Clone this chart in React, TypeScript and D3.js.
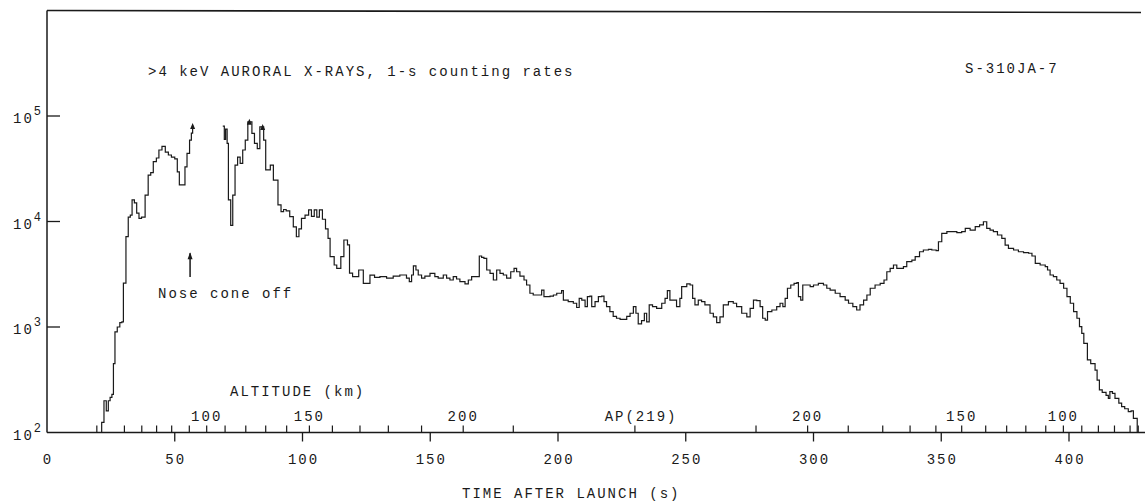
import { useEffect, useRef } from "react"
import * as d3 from "d3"

// 1-s counting rates; NaN marks the telemetry gap
const timeSec = [
  20.5, 21.4, 22.3, 23.2, 24.0, 24.7, 25.4, 26.0, 26.6, 27.5, 28.5, 29.3, 29.9, 30.9, 31.8, 32.6,
  33.3, 34.2, 35.1, 36.0, 37.0, 38.4, 39.6, 40.6, 41.6, 42.8, 43.8, 45.0, 46.3, 47.5, 48.7, 50.0,
  51.0, 51.8, 54.0, 54.8, 55.8, 56.5, 57.0, 57.4,
  68.8, 69.4, 69.9, 70.5, 71.0, 71.9, 72.7, 73.6, 74.6, 75.6, 76.6, 77.6, 78.6, 80.2, 81.2, 82.3,
  83.3, 84.8, 85.6, 87.4, 88.6, 90.4, 91.6, 92.6, 93.6, 95.0, 96.4, 97.6, 98.6, 99.6, 101.0, 102.4,
  103.5, 104.6, 105.6, 106.6, 107.8, 109.0, 110.0, 110.8, 112.4, 113.4, 115.0, 116.2, 117.6, 118.4,
  119.6, 122.0, 123.8, 126.4, 128.2, 130.3, 132.9, 135.5, 138.1, 140.7, 141.8, 142.7, 143.4, 144.4,
  145.3, 146.6, 147.9, 149.9, 151.8, 153.1, 155.1, 156.4, 157.7, 159.0, 160.3, 161.6, 163.6, 164.9,
  166.2, 168.1, 169.2, 170.1, 171.0, 172.1, 173.4, 174.7, 176.0, 177.3, 178.6, 179.9, 181.5, 182.8,
  183.8, 185.1, 186.7, 187.7, 189.0, 190.3, 192.3, 193.6, 194.5, 196.9, 198.2, 199.5, 201.4, 202.1,
  204.0, 206.0, 207.3, 208.3, 209.3, 210.6, 211.5, 212.5, 213.2, 214.5, 215.8, 217.1, 218.0, 219.0,
  220.3, 221.6, 222.9, 224.3, 226.9, 228.2, 229.5, 230.5, 231.4, 232.7, 233.8, 234.7, 235.7, 237.0,
  238.6, 240.6, 241.9, 242.8, 243.8, 246.4, 247.7, 248.4, 250.4, 251.7, 252.7, 253.6, 254.9, 256.2,
  257.5, 259.5, 260.8, 262.1, 263.4, 264.7, 266.7, 268.6, 269.9, 271.9, 273.9, 275.2, 276.5, 277.8,
  279.1, 280.1, 281.1, 282.0, 283.7, 285.6, 286.9, 288.0, 288.9, 289.8, 291.1, 292.4, 293.5, 294.1,
  295.0, 295.8, 298.7, 300.0, 301.9, 303.9, 305.2, 306.5, 308.5, 310.4, 312.4, 313.7, 315.4, 316.9,
  318.2, 319.6, 320.9, 322.2, 324.1, 326.1, 327.6, 328.7, 330.0, 331.3, 332.6, 335.2, 336.5, 338.5,
  339.8, 341.5, 343.0, 345.0, 346.3, 348.0, 348.9, 350.2, 352.2, 356.1, 358.0, 359.4, 361.3, 363.3,
  365.0, 366.5, 367.8, 369.1, 370.4, 372.0, 373.7, 375.0, 376.3, 378.3, 380.2, 382.2, 384.2, 385.5,
  386.8, 388.7, 390.7, 391.6, 392.6, 393.9, 395.2, 396.5, 397.9, 399.2, 400.5, 401.8, 403.1, 404.1,
  405.0, 405.8, 407.2, 408.5, 410.2, 411.0, 411.9, 413.0, 414.5, 415.4, 416.0, 417.0, 418.0, 419.5,
  420.6, 421.8, 423.2, 424.3, 425.2, 426.7,
]
const countRate = [
  100, 125, 200, 160, 200, 215, 230, 450, 900, 1000, 1100, 1120, 2600, 7200, 11000, 11500,
  16000, 15000, 12000, 10700, 11000, 17800, 27500, 29000, 36900, 40000, 47600, 51600, 45500, 42700, 40800, 39300,
  29500, 22200, 33000, 44300, 59000, 68800, 82000, NaN,
  80000, 60000, 75000, 55000, 16000, 9200, 17800, 34300, 40800, 35600, 47600, 59000, 88000, 68500, 55000, 49000,
  79000, 59000, 30800, 34300, 24700, 14400, 12400, 13000, 12600, 11100, 8900, 7170, 8500, 10700, 11500, 12900,
  11200, 12900, 11000, 12900, 10500, 8500, 6920, 4640, 3870, 3600, 4640, 6680, 6000, 3240,
  3000, 3470, 2590, 3100, 2950, 3000, 2900, 3040, 3110, 2900, 2690, 3110, 3790, 3470,
  3110, 2900, 3040, 3230, 3000, 2900, 3110, 2900, 2790, 3000, 2850, 2690, 2560, 2790,
  3000, 3000, 4710, 4580, 4480, 3470, 3230, 2790, 3470, 3230, 3110, 2900, 3340, 3600,
  3340, 3040, 2790, 2500, 2090, 2010, 2010, 2240, 1940, 1960, 2010, 2090, 2210, 1800,
  1740, 1680, 1530, 1870, 1800, 1560, 1940, 1960, 1560, 1740, 1940, 1960, 1740, 1560,
  1400, 1260, 1210, 1180, 1260, 1350, 1560, 1350, 1070, 1150, 1350, 1120, 1620, 1560,
  1500, 1680, 1870, 2210, 1800, 1560, 1870, 2410, 2560, 2500, 1870, 1620, 1800, 1740,
  1620, 1350, 1250, 1100, 1250, 1620, 1740, 1680, 1560, 1350, 1250, 1500, 1800, 1780,
  1560, 1210, 1160, 1400, 1450, 1560, 1680, 1560, 1870, 2330, 2500, 2590, 2630, 1940,
  1800, 2500, 2410, 2500, 2590, 2500, 2330, 2240, 2090, 1940, 1800, 1680, 1560, 1450,
  1620, 1800, 2010, 2330, 2500, 2590, 2790, 3340, 3600, 3870, 3600, 3730, 4160, 4310,
  4640, 5170, 5370, 5450, 5370, 5290, 6430, 7720, 8000, 7830, 8000, 8620, 8300, 8930,
  9270, 9950, 8620, 8300, 8000, 7450, 6930, 5980, 5570, 5370, 5170, 5060, 5000, 4710,
  4010, 3870, 3730, 3470, 3110, 3000, 2790, 2590, 2330, 1940, 1680, 1400, 1210, 1010,
  871, 700, 487, 450, 391, 314, 253, 240, 225, 211, 244, 235, 211, 190,
  176, 168, 158, 160, 136, 100,
]

// saturated points flagged with small arrows
const saturatedTime = [57.0, 79.2, 84.4]
const saturatedRate = [84000, 92000, 82000]

const timeTicks = [0, 50, 100, 150, 200, 250, 300, 350, 400]
const decadeExp = [2, 3, 4, 5]

// altitude scale marks (time after launch at each 10 km)
const altTickTime = [
  19.5, 30.3, 37.1, 42.9, 48.8, 55.7, 62.5, 69.7, 77.8, 85.6, 93.8, 102.7, 111.7, 122.5, 133.6,
  146.6, 162.9, 182.5, 230.1, 277.5, 297.7, 313.6, 327.1, 337.8, 347.9, 358.0, 367.4, 375.6,
  383.1, 390.9, 397.8, 405.0, 411.5, 417.8, 423.9, 427.1,
]
const altLabelTime = [62.5, 102.7, 162.9, 232.5, 297.7, 358.0, 397.8]
const altLabels = ["100", "150", "200", "AP(219)", "200", "150", "100"]

const FONT = "'Liberation Mono', 'DejaVu Sans Mono', monospace"
const INK = "#1a1a1a"

export default function App() {
  const ref = useRef<SVGSVGElement | null>(null)

  useEffect(() => {
    const svg = d3.select(ref.current)
    svg.selectAll("*").remove()

    const width = 1145
    const x = d3.scaleLinear().domain([0, 430]).range([47, 47 + 430 * 2.555])
    const y = d3.scaleLog().domain([100, 1e6]).range([432.5, 10.5])
    const y0 = y(100)

    const txt = (g: any) =>
      g.attr("font-family", FONT).attr("font-size", 14).attr("letter-spacing", 2).attr("fill", INK)

    // frame: left axis and top line
    svg.append("line").attr("x1", x(0)).attr("x2", x(0)).attr("y1", y(1e6)).attr("y2", y0)
      .attr("stroke", INK).attr("stroke-width", 1.5)
    svg.append("line").attr("x1", x(0)).attr("x2", width - 4).attr("y1", y(1e6)).attr("y2", y(1e6) + 2)
      .attr("stroke", INK).attr("stroke-width", 1.6)
    // bottom axis
    svg.append("line").attr("x1", x(0)).attr("x2", width).attr("y1", y0).attr("y2", y0)
      .attr("stroke", INK).attr("stroke-width", 1.4)

    // y decade ticks and labels
    const yt = svg.append("g")
    yt.selectAll("line").data(decadeExp.filter(d => d > 2)).enter().append("line")
      .attr("x1", x(0)).attr("x2", x(0) + 13)
      .attr("y1", d => y(Math.pow(10, d))).attr("y2", d => y(Math.pow(10, d)))
      .attr("stroke", INK).attr("stroke-width", 1.3)
    const lab = yt.selectAll("text").data(decadeExp).enter().append("text")
      .attr("x", 13).attr("y", d => y(Math.pow(10, d)) + 7)
      .call(txt)
    lab.append("tspan").text("10")
    lab.append("tspan").attr("font-size", 12).attr("dy", -8).text(d => String(d))

    // time ticks (downward) and labels
    const xt = svg.append("g")
    xt.selectAll("line").data(timeTicks.filter(d => d > 0)).enter().append("line")
      .attr("x1", d => x(d)).attr("x2", d => x(d)).attr("y1", y0).attr("y2", y0 + 9)
      .attr("stroke", INK).attr("stroke-width", 1.3)
    xt.selectAll("text").data(timeTicks).enter().append("text")
      .attr("x", d => x(d) + 1).attr("y", y0 + 31).attr("text-anchor", "middle")
      .text(d => String(d)).call(txt)

    // altitude ticks (upward) and labels
    const at = svg.append("g")
    at.selectAll("line").data(altTickTime).enter().append("line")
      .attr("x1", d => x(d)).attr("x2", d => x(d)).attr("y1", y0).attr("y2", y0 - 7)
      .attr("stroke", INK).attr("stroke-width", 1.2)
    at.selectAll("text").data(altLabelTime).enter().append("text")
      .attr("x", d => x(d)).attr("y", y0 - 12).attr("text-anchor", "middle")
      .text((d, i) => altLabels[i]).call(txt)

    svg.append("text").attr("x", 230).attr("y", 396).text("ALTITUDE (km)").call(txt)
    svg.append("text").attr("x", 462).attr("y", 498).text("TIME AFTER LAUNCH (s)").call(txt)
    svg.append("text").attr("x", 148).attr("y", 76).text(">4 keV AURORAL X-RAYS, 1-s counting rates").call(txt)
    svg.append("text").attr("x", 965).attr("y", 73).text("S-310JA-7").call(txt)
    svg.append("text").attr("x", 158).attr("y", 298).text("Nose cone off").call(txt)

    // nose cone arrow
    svg.append("line").attr("x1", x(56.0)).attr("x2", x(56.0)).attr("y1", y(2980)).attr("y2", y(5000))
      .attr("stroke", INK).attr("stroke-width", 1.5)
    svg.append("path")
      .attr("d", `M${x(56.0) - 2.5},${y(5000) + 6}L${x(56.0)},${y(5000) - 1}L${x(56.0) + 2.5},${y(5000) + 6}Z`)
      .attr("fill", INK)

    // counting rate trace
    const pts = timeSec.map((t, i) => [t, countRate[i]] as [number, number])
    const line = d3.line<[number, number]>()
      .defined(d => !isNaN(d[1]))
      .x(d => x(d[0]))
      .y(d => y(d[1]))
      .curve(d3.curveStepAfter)
    svg.append("path").datum(pts).attr("d", line)
      .attr("fill", "none").attr("stroke", INK).attr("stroke-width", 1.2)

    // saturation arrows
    svg.selectAll("path.sat").data(saturatedTime).enter().append("path")
      .attr("class", "sat")
      .attr("d", (d, i) => {
        const cx = x(d)
        const cy = y(saturatedRate[i])
        return `M${cx - 2.5},${cy + 5}L${cx},${cy - 1}L${cx + 2.5},${cy + 5}Z`
      })
      .attr("fill", INK)
  }, [])

  return (
    <svg ref={ref} width={1145} height={504}
      style={{ position: "absolute", left: 0, top: 0, background: "#fff" }} />
  )
}
